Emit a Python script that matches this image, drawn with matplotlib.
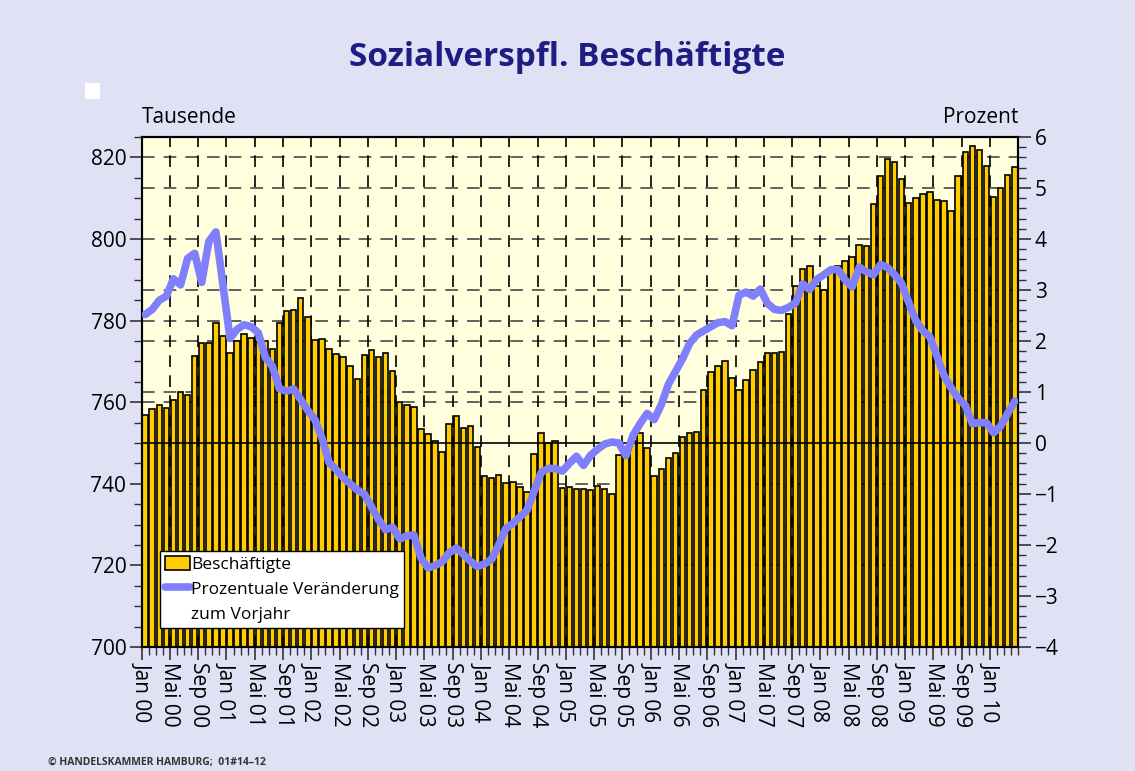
import matplotlib
matplotlib.use("Agg")
import matplotlib.pyplot as plt
from matplotlib.patches import Rectangle, Patch
from matplotlib.lines import Line2D
from matplotlib.ticker import MultipleLocator

plt.rcParams["font.family"] = ["Open Sans", "DejaVu Sans"]

# Beschäftigte in Tausend, monatlich Jan 00 - Apr 10
beschaeftigte = [
    756.9, 758.3, 759.3, 758.7, 760.6, 762.6, 761.7, 771.4, 774.5, 774.4, 779.5, 776.3,  # 2000
    772.0, 775.1, 776.6, 775.7, 774.8, 775.1, 773.0, 779.4, 782.3, 782.5, 785.6, 780.9,  # 2001
    775.3, 775.5, 773.1, 771.8, 771.2, 768.8, 765.8, 771.6, 772.7, 771.2, 772.0, 767.7,  # 2002
    760.0, 759.4, 758.9, 753.4, 752.1, 750.4, 747.9, 754.7, 756.6, 753.8, 754.1, 749.0,  # 2003
    741.8, 741.5, 742.1, 740.1, 740.4, 739.3, 738.0, 747.4, 752.5, 750.1, 750.4, 738.9,  # 2004
    739.2, 738.7, 738.7, 738.4, 739.5, 738.7, 737.5, 747.0, 748.6, 750.5, 752.5, 748.9,  # 2005
    741.8, 743.7, 746.3, 747.5, 751.4, 752.4, 752.8, 762.9, 767.4, 768.8, 770.2, 765.9,  # 2006
    763.1, 765.5, 767.8, 769.9, 772.1, 772.1, 772.2, 781.7, 788.4, 792.7, 793.3, 788.4,  # 2007
    787.6, 792.1, 793.5, 794.5, 795.5, 798.6, 798.2, 808.5, 815.4, 819.7, 818.8, 814.6,  # 2008
    808.9, 810.0, 811.0, 811.4, 809.5, 809.4, 806.8, 815.4, 821.4, 822.8, 821.8, 818.0,  # 2009
    810.3, 812.5, 815.8, 817.6,                                                          # 2010
]

# Prozentuale Veränderung zum Vorjahr
veraenderung = [
    2.52, 2.62, 2.80, 2.88, 3.22, 3.10, 3.62, 3.72, 3.15, 3.95, 4.14, 3.10,
    2.05, 2.23, 2.32, 2.28, 2.16, 1.68, 1.50, 1.06, 1.02, 1.06, 0.85, 0.64,
    0.46, 0.10, -0.38, -0.52, -0.68, -0.80, -0.92, -1.00, -1.25, -1.50, -1.70, -1.65,
    -1.88, -1.82, -1.80, -2.25, -2.45, -2.40, -2.33, -2.15, -2.06, -2.18, -2.32, -2.42,
    -2.37, -2.28, -2.00, -1.68, -1.58, -1.45, -1.32, -0.95, -0.58, -0.50, -0.50, -0.55,
    -0.40, -0.26, -0.44, -0.24, -0.12, -0.02, 0.02, 0.00, -0.25, 0.15, 0.38, 0.58,
    0.46, 0.75, 1.15, 1.40, 1.65, 1.95, 2.12, 2.20, 2.28, 2.36, 2.38, 2.30,
    2.90, 2.96, 2.88, 3.02, 2.74, 2.62, 2.60, 2.66, 2.75, 3.12, 3.01, 3.21,
    3.30, 3.40, 3.40, 3.20, 3.06, 3.45, 3.36, 3.30, 3.50, 3.44, 3.30, 3.13,
    2.75, 2.40, 2.20, 2.08, 1.70, 1.32, 1.08, 0.88, 0.74, 0.38, 0.40, 0.40,
    0.20, 0.33, 0.58, 0.82,
]

tick_labels = [
    "Jan 00", "Mai 00", "Sep 00", "Jan 01", "Mai 01", "Sep 01", "Jan 02", "Mai 02",
    "Sep 02", "Jan 03", "Mai 03", "Sep 03", "Jan 04", "Mai 04", "Sep 04", "Jan 05",
    "Mai 05", "Sep 05", "Jan 06", "Mai 06", "Sep 06", "Jan 07", "Mai 07", "Sep 07",
    "Jan 08", "Mai 08", "Sep 08", "Jan 09", "Mai 09", "Sep 09", "Jan 10",
]

bg = "#E1E1F6"
gold = "#FFCC00"
blue = "#8080FF"
navy = "#1E1E82"

n = len(beschaeftigte)
x = [i + 0.5 for i in range(n)]

fig = plt.figure(figsize=(11.35, 7.71), dpi=100)
fig.patch.set_facecolor(bg)
ax = fig.add_axes([0.1248, 0.1608, 0.7724, 0.6615])
ax.set_facecolor("#FFFFDD")

ax.bar(x, beschaeftigte, width=0.78, color=gold, edgecolor="black", linewidth=1.2, zorder=2)
ax.set_xlim(0, n)
ax.set_ylim(700, 825)
ax.set_axisbelow(True)

# Gitter (links, rechts, vertikal)
ax.set_yticks([700, 720, 740, 760, 780, 800, 820])
ax.yaxis.set_minor_locator(MultipleLocator(5))
for yv in [720, 740, 760, 780, 800, 820]:
    ax.axhline(yv, color="#555555", lw=1.3, ls=(0, (7, 5)), zorder=1)
for r in [1, 2, 3, 5]:
    ax.axhline(750 + 12.5 * r, color="#555555", lw=1.3, ls=(0, (7, 5)), zorder=1)
ax.set_xticks(range(0, 121, 4), labels=tick_labels, rotation=270)
ax.xaxis.set_minor_locator(MultipleLocator(1))
for xv in range(4, 121, 4):
    ax.axvline(xv, color="black", lw=1.2, ls=(0, (7, 5)), zorder=1)
ax.axhline(750, color="black", lw=1.2, zorder=3)

ax.tick_params(axis="both", which="major", labelsize=15, length=9, width=1.2, color="#333333", pad=2)
ax.tick_params(axis="both", which="minor", length=5.5, width=1.0, color="#333333")
for s in ax.spines.values():
    s.set_linewidth(1.5)

ax2 = ax.twinx()
ax2.plot(x, veraenderung, color=blue, lw=5.5, solid_capstyle="round", solid_joinstyle="round", zorder=4)
ax2.set_ylim(-4, 6)
ax2.set_yticks(range(-4, 7))
ax2.set_yticklabels([str(v).replace("-", "\u2212") for v in range(-4, 7)])
ax2.yaxis.set_minor_locator(MultipleLocator(0.2))
ax2.tick_params(axis="y", which="major", labelsize=15, length=9, width=1.2, color="#333333", pad=3)
ax2.tick_params(axis="y", which="minor", length=5.5, width=1.0, color="#333333")
for s in ax2.spines.values():
    s.set_linewidth(1.5)

handles = [
    Patch(facecolor=gold, edgecolor="black", linewidth=1.2),
    Line2D([0], [0], color=blue, lw=5.5, solid_capstyle="round"),
    Line2D([0], [0], color="none"),
]
leg = ax2.legend(handles, ["Beschäftigte", "Prozentuale Veränderung", "zum Vorjahr"],
                 loc="lower left", bbox_to_anchor=(0.021, 0.037), fontsize=12.5,
                 frameon=True, fancybox=False, framealpha=1, edgecolor="black",
                 handlelength=1.4, handleheight=0.9, handletextpad=0.1, borderpad=0.3,
                 labelspacing=0.45, borderaxespad=0)
leg.get_frame().set_linewidth(1.0)
leg.set_zorder(10)

fig.text(0.5, 0.926, "Sozialverspfl. Beschäftigte", ha="center", va="center",
         fontsize=24, fontweight="bold", color=navy)
fig.text(0.1248, 0.848, "Tausende", ha="left", va="center", fontsize=15)
fig.text(0.8972, 0.848, "Prozent", ha="right", va="center", fontsize=15)
fig.text(0.042, 0.011, "© HANDELSKAMMER HAMBURG;  01#14\u201312", ha="left", va="center",
         fontsize=7.5, fontweight="bold", color="#333333")
fig.patches.append(Rectangle((0.075, 0.872), 0.0135, 0.02, transform=fig.transFigure,
                             facecolor="white", edgecolor="none"))

fig.savefig("out.png", dpi=100, facecolor=bg)
